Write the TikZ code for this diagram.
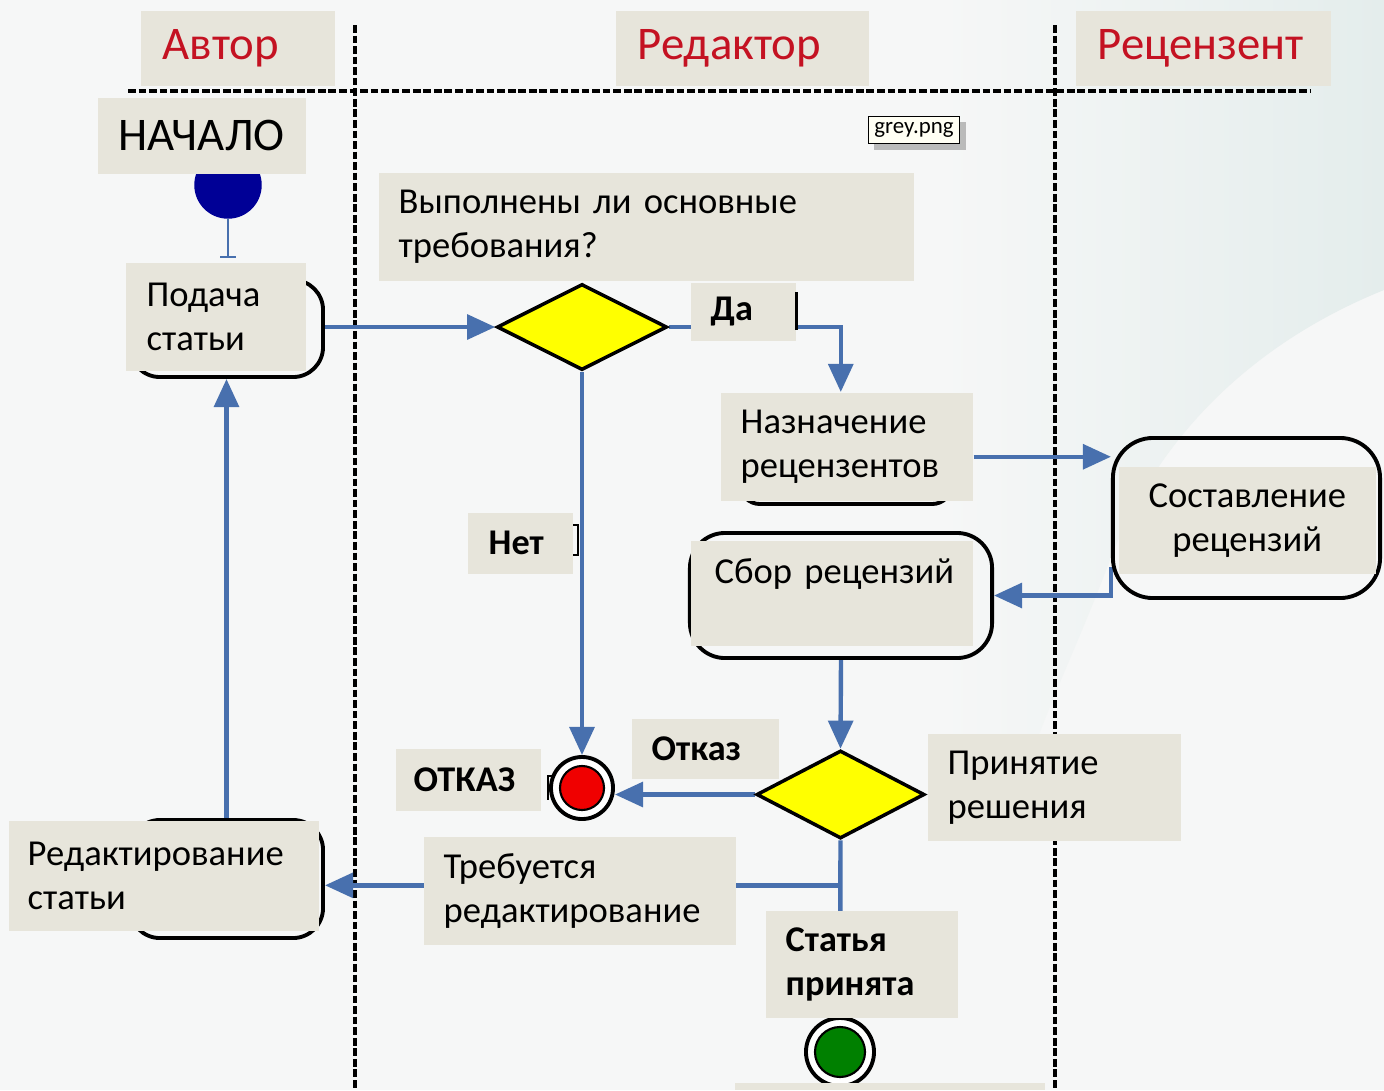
\documentclass[tikz,border=0pt]{standalone}
\usepackage{fontspec}
\setmainfont{Carlito}
\usetikzlibrary{shapes.geometric,arrows.meta,calc,shadows}

\definecolor{paper}{RGB}{246,247,247}
\definecolor{sheen}{RGB}{228,237,236}
\definecolor{boxgray}{RGB}{231,229,219}
\definecolor{lanered}{RGB}{196,18,34}
\definecolor{flowblue}{RGB}{72,112,174}
\definecolor{decyellow}{RGB}{255,255,0}
\definecolor{startblue}{RGB}{0,0,150}
\definecolor{stopred}{RGB}{240,0,0}
\definecolor{okgreen}{RGB}{0,128,0}
\definecolor{tipcream}{RGB}{255,255,244}

\pgfdeclarelayer{background}
\pgfdeclarelayer{links}
\pgfsetlayers{background,links,main}

\newcommand{\bodyfont}{\fontsize{10.4}{12.5}\selectfont}

\tikzset{
	tag/.style={fill=boxgray, anchor=north west, inner ysep=0pt, align=left, font=\bodyfont},
	hdr/.style={tag, text=lanered, font=\fontsize{13.3}{16}\selectfont},
	yesno/.style={tag, font=\fontsize{10.3}{12.5}\selectfont\bfseries},
	act/.style={draw=black, line width=1.1pt, rounded corners=#1, inner sep=0pt},
	choice/.style={diamond, draw=black, line width=1pt, fill=decyellow, inner sep=0pt},
	final/.style 2 args={circle, draw=black, line width=1.1pt, fill=white, inner sep=0pt,
		path picture={\draw[line width=0.6pt, fill=#1] (path picture bounding box.center) circle (#2);}},
	flowline/.style={draw=flowblue, line width=1.25pt},
	flow/.style={flowline, -{Triangle[length=8pt,width=7pt]}},
	lane/.style={line width=1pt, dash pattern=on 2.2pt off 0.8pt},
	frag/.style={line width=0.6pt}
}

\begin{document}
\begin{tikzpicture}[x=0.01cm,y=-0.01cm]
	\useasboundingbox (0,0) rectangle (1384,1090);
	\begin{pgfonlayer}{background}
	\fill[paper] (0,0) rectangle (1384,1090);
	\shade[left color=paper, right color=sheen] (940,0) -- (1384,0) -- (1384,290) .. controls (1260,340) and (1160,430) .. (1110,560) .. controls (1080,640) and (1050,700) .. (1030,760) -- (940,760) -- cycle;
	% swimlanes
	\draw[lane] (128,91) -- (1310,91);
	\foreach \x in {355,1055} \draw[lane] (\x,25) -- (\x,1090);
	\end{pgfonlayer}
	
	\node[hdr, text width=15mm, inner xsep=2.2mm, minimum height=7.5mm] (author) at (140,10) {Автор};
	\node[hdr, text width=20.9mm, inner xsep=2.2mm, minimum height=7.5mm] (editor) at (615,10) {Редактор};
	\node[hdr, text width=21.1mm, inner xsep=2.2mm, minimum height=7.5mm] (reviewer) at (1075,10) {Рецензент};
	
	% start
	\node[circle, draw=startblue, fill=startblue, minimum size=6.6mm, inner sep=0pt] (start) at (228,185) {};
	\node[tag, font=\fontsize{13.3}{16}\selectfont, text width=16.6mm, inner xsep=2.1mm, minimum height=7.6mm] (startT) at (97,97) {НАЧАЛО};
	
	% activities
	\node[act=3mm, minimum width=19.3mm, minimum height=9.7mm] (podR) at (226.5,328.5) {};
	\node[act=2mm, minimum width=21.2mm, minimum height=10.6mm] (naznR) at (846,451) {};
	\node[act=4mm, minimum width=26.7mm, minimum height=16mm] (sostR) at (1246.5,518) {};
	\node[act=3.5mm, minimum width=30.2mm, minimum height=12.5mm] (sborR) at (841,595.5) {};
	\node[act=3mm, minimum width=19.3mm, minimum height=11.8mm] (redR) at (226.5,879) {};
	
	\node[choice, minimum width=17mm, minimum height=8.6mm] (d1) at (582,327) {};
	\node[choice, minimum width=16.8mm, minimum height=8.8mm] (d2) at (840.5,794.5) {};
	
	\node[final={stopred}{2.2mm}, minimum size=6.2mm] (endNo) at (582,788) {};
	\node[final={okgreen}{2.5mm}, minimum size=6.8mm] (endYes) at (840,1052) {};
	
	% labels
	\node[tag, text width=13.8mm, inner xsep=2.1mm, minimum height=10.8mm] (podT) at (125,262) {Подача\\статьи};
	\node[tag, text width=49.5mm, inner xsep=2mm, minimum height=10.8mm] (quest) at (378,172) {Выполнены ли основные\\требования?};
	\node[yesno, text width=6.5mm, inner xsep=2mm, minimum height=5.8mm] (yes) at (690,282) {Да};
	\node[tag, text width=21.2mm, inner xsep=2mm, minimum height=10.8mm] (naznT) at (720,392) {Назначение\\рецензентов};
	\node[tag, align=center, text width=21.7mm, inner xsep=2mm, minimum height=10.7mm] (sostT) at (1118,466) {Составление\\рецензий};
	\node[yesno, text width=6.3mm, inner xsep=2.1mm, minimum height=6.1mm] (no) at (467,512) {Нет};
	\node[tag, text width=23.4mm, inner xsep=2.4mm, minimum height=10.5mm] (sborT) at (690,540) {\mbox{Сбор рецензий}\\\mbox{}};
	\node[yesno, text width=10.7mm, inner xsep=2mm, minimum height=6mm] (reject) at (631,718) {Отказ};
	\node[yesno, text width=10.9mm, inner xsep=1.8mm, minimum height=6.2mm] (stopT) at (395,748) {ОТКАЗ};
	\node[tag, text width=21.3mm, inner xsep=2mm, minimum height=10.7mm] (decide) at (927,733) {Принятие\\решения};
	\node[tag, text width=27.2mm, inner xsep=2mm, minimum height=10.8mm] (revise) at (423,836) {Требуется\\редактирование};
	\node[tag, text width=27.2mm, inner xsep=1.9mm, minimum height=11mm] (redT) at (8,820) {Редактирование\\статьи};
	\node[yesno, text width=15.2mm, inner xsep=2mm, minimum height=10.7mm] (accept) at (765,910) {Статья\\принята};
	\fill[boxgray] (735,1083) rectangle (1045,1090);
	
	\node[draw, fill=tipcream, line width=0.5pt, inner sep=0.6mm, font=\fontsize{6.5}{8}\selectfont,
		drop shadow={shadow xshift=0.6mm, shadow yshift=-0.6mm, opacity=0.5}] (tip) at (914,130) {grey.png};
	
	% bracket remnants
	\draw[frag] ([yshift=-1mm]yes.north east) -- ([yshift=-4.8mm]yes.north east);
	\draw[frag] (573,525) -- (578,525) -- (578,555) -- (573,555);
	\draw[frag] (553,776) -- (548,776) -- (548,800);
	
	\begin{pgfonlayer}{links}
	\draw[flowblue, line width=0.7pt, -{Bar[width=4.5pt]}] (start.south) -- ([yshift=0.4mm]podT.north -| start);
	\draw[flow] (podR.east |- d1) -- (d1.west);
	\draw[flow] (d1.east) -| ([xshift=-0.6mm]naznT.north);
	\draw[flow] ([yshift=-1mm]naznT.east) -- ([yshift=-1mm]naznT.east -| sostR.west);
	\draw[flow] ([yshift=-4.9mm]sostR.west) |- (sborR.east);
	\draw[flow] (sborR.south) -- (d2.north);
	\draw[flow] (d2.west) -- (d2.west -| endNo.east);
	\draw[flow] (d1.south) -- (endNo.north);
	\draw[flowline] (d2.south) -- (endYes.north);
	\coordinate (split) at ([yshift=-4.5mm]d2.south);
	\draw[flow] (split) -- (split -| redR.east);
	\draw[flow] (redR.north) -- (podR.south);
	\end{pgfonlayer}
\end{tikzpicture}
\end{document}
